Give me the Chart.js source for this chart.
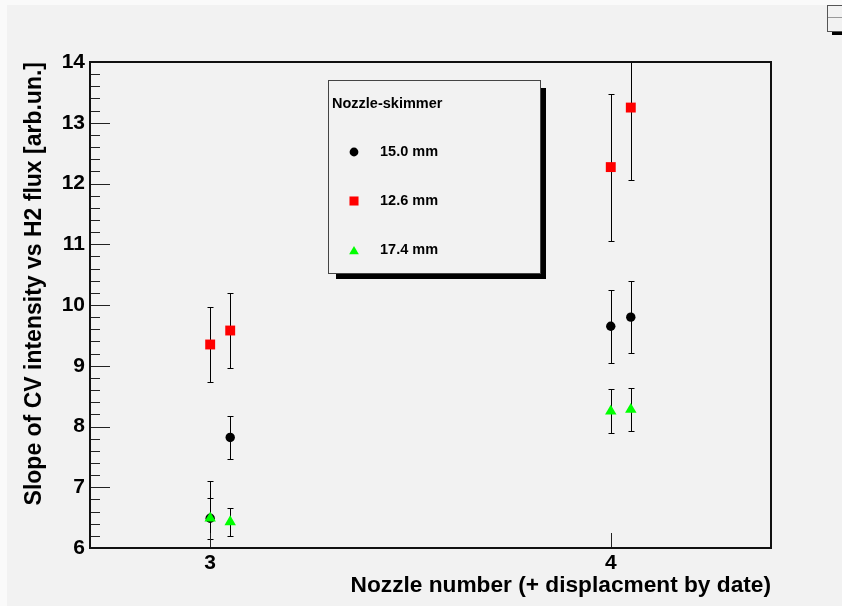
<!DOCTYPE html>
<html>
<head>
<meta charset="utf-8">
<script src="https://cdn.jsdelivr.net/npm/chart.js@4.4.1/dist/chart.umd.min.js"></script>
<style>
  html, body { margin: 0; padding: 0; background: #fafafa; }
  #wrap { width: 842px; height: 606px; }
  canvas { display: block; }
</style>
</head>
<body>
<div id="wrap"><canvas id="c" width="842" height="606"></canvas></div>
<script>
// ---- data ----
const nozzleX = [3, 3.05, 4, 4.05];           // nozzle number (+ displacement by date)
const seriesLabels = ['15.0 mm', '12.6 mm', '17.4 mm'];
const values150 = [6.49, 7.82, 9.65, 9.80];
const errors150 = [0.62, 0.35, 0.60, 0.59];
const values126 = [9.35, 9.58, 12.27, 13.25];
const errors126 = [0.61, 0.62, 1.21, 1.20];
const values174 = [6.49, 6.43, 8.25, 8.28];
const errors174 = [0.34, 0.23, 0.36, 0.36];
const xTickValues = [3, 4];
const yTickValues = [6, 7, 8, 9, 10, 11, 12, 13, 14];
const legendTitle = 'Nozzle-skimmer';
const xTitle = 'Nozzle number (+ displacment by date)';
const yTitle = 'Slope of CV intensity vs H2 flux [arb.un.]';

const FONT = 'Liberation Sans, Arial, Helvetica, sans-serif';

function pts(vals) { return nozzleX.map((x, i) => ({ x: x, y: vals[i] })); }

const datasets = [
  { label: seriesLabels[0], data: pts(values150), errs: errors150, pointStyle: 'circle', pointRadius: 4.7,
    backgroundColor: '#000000', borderColor: '#000000', borderWidth: 0, order: 3, showLine: false, legendRadius: 4.4 },
  { label: seriesLabels[1], data: pts(values126), errs: errors126, pointStyle: 'rect', pointRadius: 7,
    backgroundColor: '#ff0000', borderColor: '#ff0000', borderWidth: 0, order: 2, showLine: false, legendRadius: 6.4 },
  { label: seriesLabels[2], data: pts(values174), errs: errors174, pointStyle: 'triangle', pointRadius: 6.6,
    backgroundColor: '#00ff00', borderColor: '#00ff00', borderWidth: 0, order: 1, showLine: false, legendRadius: 5.6 }
];

const bgPlugin = {
  id: 'bg',
  beforeDraw(chart) {
    const ctx = chart.ctx;
    ctx.save();
    ctx.fillStyle = '#fafafa';
    ctx.fillRect(0, 0, chart.width, chart.height);
    ctx.fillStyle = '#f2f2f2';
    ctx.fillRect(7, 5, chart.width - 7, chart.height - 5);
    // small cut-off box at the top right corner
    ctx.fillStyle = '#000';
    ctx.fillRect(832, 32, 12, 3);
    ctx.fillStyle = '#f2f2f2';
    ctx.fillRect(827, 5, 16, 27);
    ctx.strokeStyle = '#555';
    ctx.lineWidth = 1;
    ctx.strokeRect(827.5, 5.5, 20, 26);
    ctx.strokeStyle = '#999';
    ctx.beginPath(); ctx.moveTo(828, 17.5); ctx.lineTo(842, 17.5); ctx.stroke();
    ctx.restore();
  }
};

const errorBarPlugin = {
  id: 'errbars',
  beforeDatasetsDraw(chart) {
    const ctx = chart.ctx, xs = chart.scales.x, ys = chart.scales.y, a = chart.chartArea;
    ctx.save();
    ctx.beginPath();
    ctx.rect(a.left, a.top, a.right - a.left, a.bottom - a.top);
    ctx.clip();
    ctx.strokeStyle = '#000';
    ctx.lineWidth = 1;
    chart.data.datasets.forEach(ds => {
      ds.data.forEach((p, i) => {
        const e = ds.errs[i];
        const px = Math.round(xs.getPixelForValue(p.x)) + 0.5;
        const yTop = Math.round(ys.getPixelForValue(p.y + e)) + 0.5;
        const yBot = Math.round(ys.getPixelForValue(p.y - e)) + 0.5;
        ctx.beginPath();
        ctx.moveTo(px, yTop); ctx.lineTo(px, yBot);
        ctx.moveTo(px - 3, yTop); ctx.lineTo(px + 3, yTop);
        ctx.moveTo(px - 3, yBot); ctx.lineTo(px + 3, yBot);
        ctx.stroke();
      });
    });
    ctx.restore();
  }
};

const framePlugin = {
  id: 'frame',
  afterDatasetsDraw(chart) {
    const ctx = chart.ctx, xs = chart.scales.x, ys = chart.scales.y, a = chart.chartArea;
    ctx.save();
    ctx.strokeStyle = '#222';
    ctx.lineWidth = 1;
    ctx.beginPath();
    for (let i = 0; i < yTickValues.length; i++) {
      const v = yTickValues[i];
      const py = Math.round(ys.getPixelForValue(v)) + 0.5;
      ctx.moveTo(a.left, py); ctx.lineTo(a.left + 20, py);
      if (i < yTickValues.length - 1) {
        const step = (yTickValues[i + 1] - v) / 5;
        for (let k = 1; k < 5; k++) {
          const pm = Math.round(ys.getPixelForValue(v + k * step)) + 0.5;
          ctx.moveTo(a.left, pm); ctx.lineTo(a.left + 10, pm);
        }
      }
    }
    xTickValues.forEach(v => {
      const px = Math.round(xs.getPixelForValue(v)) + 0.5;
      ctx.moveTo(px, a.bottom); ctx.lineTo(px, a.bottom - 15);
    });
    ctx.stroke();
    ctx.strokeStyle = '#111';
    ctx.lineWidth = 2;
    ctx.strokeRect(Math.round(a.left), Math.round(a.top), Math.round(a.right - a.left), Math.round(a.bottom - a.top));
    ctx.restore();
  }
};

const legendBoxPlugin = {
  id: 'legendBox',
  afterDraw(chart) {
    const ctx = chart.ctx;
    const L = 328, T = 80, R = 541, B = 274;
    ctx.save();
    ctx.fillStyle = '#000';
    ctx.fillRect(R, T + 8, 5, B - T - 3);
    ctx.fillRect(L + 8, B, R - L - 3, 5);
    ctx.fillStyle = '#f2f2f2';
    ctx.fillRect(L, T, R - L, B - T);
    ctx.strokeStyle = '#444';
    ctx.lineWidth = 1;
    ctx.strokeRect(L + 0.5, T + 0.5, R - L - 1, B - T - 1);
    ctx.fillStyle = '#000';
    ctx.font = 'bold 14.5px ' + FONT;
    ctx.textBaseline = 'middle';
    ctx.textAlign = 'left';
    ctx.fillText(legendTitle, 332, 104);
    const rows = [152, 201, 250];
    chart.data.datasets.forEach((ds, i) => {
      ctx.fillStyle = ds.backgroundColor;
      ctx.strokeStyle = ds.borderColor;
      Chart.helpers.drawPoint(ctx, { pointStyle: ds.pointStyle, radius: ds.legendRadius, borderWidth: 0, rotation: 0 },
        354, rows[i] + (ds.pointStyle === 'triangle' ? 1.5 : 0));
      ctx.fillStyle = '#000';
      ctx.font = 'bold 14.5px ' + FONT;
      ctx.fillText(ds.label, 380, rows[i]);
    });
    ctx.restore();
  }
};

new Chart(document.getElementById('c'), {
  type: 'scatter',
  data: { datasets: datasets },
  options: {
    responsive: false,
    animation: false,
    devicePixelRatio: 1,
    layout: { padding: { top: 62, right: 71, left: 0, bottom: 0 } },
    plugins: { legend: { display: false }, tooltip: { enabled: false } },
    scales: {
      x: {
        type: 'linear', min: 2.7, max: 4.4,
        grid: { display: false, drawTicks: false },
        border: { display: false },
        afterBuildTicks: s => { s.ticks = xTickValues.map(v => ({ value: v })); },
        afterFit: s => { s.height = 58; },
        ticks: { autoSkip: false, maxRotation: 0, padding: 3, color: '#000',
                 font: { family: FONT, size: 21, weight: 'bold' } },
        title: { display: true, text: xTitle, align: 'end', color: '#000',
                 padding: { top: 0, bottom: 7 },
                 font: { family: FONT, size: 22.7, weight: 'bold' } }
      },
      y: {
        type: 'linear', min: 6, max: 14,
        grid: { display: false, drawTicks: false },
        border: { display: false },
        afterBuildTicks: s => { s.ticks = yTickValues.map(v => ({ value: v })); },
        afterFit: s => { s.width = 90; },
        ticks: { autoSkip: false, padding: 5, color: '#000',
                 font: { family: FONT, size: 21, weight: 'bold' } },
        title: { display: true, text: yTitle, align: 'end', color: '#000',
                 padding: { top: 21, bottom: 0 },
                 font: { family: FONT, size: 23, weight: 'bold' } }
      }
    }
  },
  plugins: [bgPlugin, errorBarPlugin, framePlugin, legendBoxPlugin]
});
</script>
</body>
</html>
